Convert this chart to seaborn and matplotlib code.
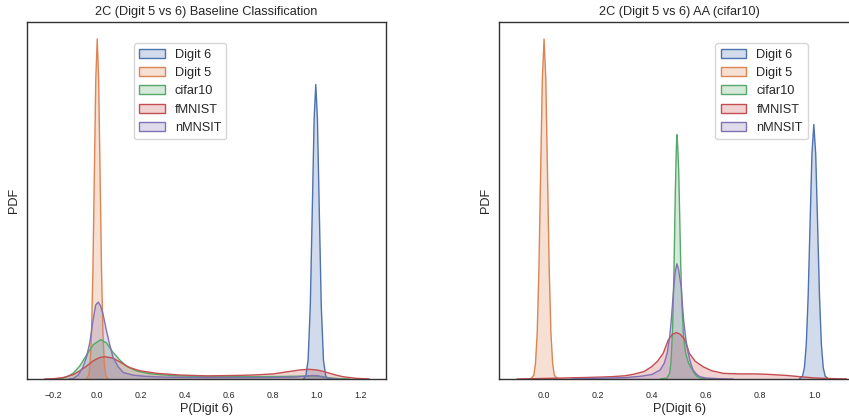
import matplotlib
matplotlib.use("Agg")
import matplotlib.pyplot as plt
from matplotlib.patches import Patch
from matplotlib.colors import to_rgba
import numpy as np
import pandas as pd
import seaborn as sns

# ---- density curves, P(Digit 6) vs PDF ----
series_names = ["Digit 6", "Digit 5", "cifar10", "fMNIST", "nMNSIT"]

# Baseline classification
base_digit6_x = [0.94, 0.951, 0.961, 0.971, 0.981, 0.9885, 0.996, 1.0035, 1.011, 1.021, 1.031, 1.041, 1.052]
base_digit6_y = [0.0, 0.34, 2.0, 7.7, 18.8, 27.4, 31.0, 27.4, 18.8, 7.7, 2.0, 0.34, 0.0]

base_digit5_x = [-0.05, -0.039, -0.0325, -0.026, -0.0195, -0.013, -0.0065, 0.0,
                 0.0065, 0.013, 0.0195, 0.026, 0.0325, 0.039, 0.05]
base_digit5_y = [0.0, 0.4, 1.57, 4.85, 11.6, 21.7, 31.6, 35.8,
                 31.6, 21.7, 11.6, 4.85, 1.57, 0.4, 0.0]

base_cifar_x = [-0.19, -0.16, -0.14, -0.11, -0.08, -0.049, -0.019, 0.016, 0.042, 0.072,
                0.103, 0.133, 0.179, 0.24, 0.345, 0.45, 0.6, 0.75, 0.85, 0.92, 0.97,
                1.01, 1.05, 1.1, 1.15]
base_cifar_y = [0.0, 0.08, 0.2, 0.6, 1.35, 2.5, 3.6, 4.15, 3.8, 2.8,
                2.0, 1.35, 0.85, 0.55, 0.35, 0.28, 0.25, 0.25, 0.27, 0.3, 0.32,
                0.3, 0.15, 0.04, 0.0]

base_fmnist_x = [-0.24, -0.2, -0.156, -0.11, -0.08, -0.049, -0.019, 0.01, 0.034, 0.072,
                 0.103, 0.148, 0.194, 0.27, 0.376, 0.5, 0.65, 0.72, 0.8, 0.878, 0.93,
                 0.965, 1.0, 1.03, 1.06, 1.09, 1.12, 1.18, 1.24]
base_fmnist_y = [0.0, 0.03, 0.15, 0.45, 0.85, 1.35, 1.9, 2.25, 2.35, 2.2,
                 1.8, 1.2, 0.87, 0.6, 0.42, 0.33, 0.38, 0.43, 0.53, 0.8, 0.97,
                 1.02, 0.95, 0.8, 0.6, 0.4, 0.24, 0.07, 0.0]

base_nmnist_x = [-0.13, -0.11, -0.087, -0.065, -0.049, -0.034, -0.019, -0.007, 0.005, 0.015,
                 0.026, 0.042, 0.057, 0.072, 0.095, 0.118, 0.163, 0.22, 0.3, 0.4, 0.5,
                 0.6, 0.7, 0.8, 0.9, 0.95, 0.98, 1.0, 1.03, 1.06, 1.1]
base_nmnist_y = [0.0, 0.05, 0.4, 1.26, 2.3, 3.8, 6.2, 7.8, 8.1, 7.7,
                 6.9, 5.1, 3.6, 2.3, 1.3, 0.7, 0.4, 0.28, 0.2, 0.17, 0.15,
                 0.15, 0.15, 0.16, 0.2, 0.3, 0.36, 0.35, 0.2, 0.05, 0.0]

# AA (cifar10)
aa_digit6_x = [0.945, 0.957, 0.964, 0.971, 0.978, 0.985, 0.992, 0.999, 1.006, 1.013,
               1.02, 1.027, 1.034, 1.041, 1.054]
aa_digit6_y = [0.0, 0.3, 1.2, 3.7, 8.9, 16.6, 24.2, 27.4, 24.2, 16.6,
               8.9, 3.7, 1.2, 0.3, 0.0]

aa_digit5_x = [-0.05, -0.038, -0.032, -0.0254, -0.019, -0.0127, -0.0064, 0.0,
               0.0064, 0.0127, 0.019, 0.0254, 0.032, 0.038, 0.05]
aa_digit5_y = [0.0, 0.41, 1.6, 4.95, 11.9, 22.2, 32.3, 36.6,
               32.3, 22.2, 11.9, 4.95, 1.6, 0.41, 0.0]

aa_cifar_x = [0.43, 0.455, 0.465, 0.47, 0.476, 0.481, 0.486, 0.4895, 0.492, 0.495,
              0.4985, 0.502, 0.506, 0.51, 0.516, 0.524, 0.535, 0.545, 0.555, 0.565,
              0.58, 0.6]
aa_cifar_y = [0.0, 0.1, 0.6, 1.8, 5.5, 11.5, 20.0, 24.5, 26.3, 25.0,
              22.5, 18.0, 12.5, 8.3, 4.8, 2.8, 1.7, 1.2, 0.7, 0.3,
              0.07, 0.0]

aa_fmnist_x = [-0.1, -0.05, 0.0, 0.06, 0.12, 0.18, 0.25, 0.3, 0.33, 0.37,
               0.398, 0.42, 0.441, 0.46, 0.475, 0.49, 0.505, 0.522, 0.538, 0.56,
               0.589, 0.62, 0.663, 0.72, 0.78, 0.83, 0.9, 0.947, 1.0, 1.03,
               1.07, 1.12]
aa_fmnist_y = [0.0, 0.03, 0.06, 0.1, 0.14, 0.18, 0.25, 0.35, 0.5, 0.8,
               1.32, 1.9, 2.76, 4.2, 4.8, 5.0, 4.8, 4.2, 2.76, 1.9,
               1.32, 0.9, 0.61, 0.55, 0.55, 0.5, 0.38, 0.25, 0.12, 0.08,
               0.04, 0.01]

aa_nmnist_x = [0.1, 0.2, 0.3, 0.36, 0.4, 0.43, 0.445, 0.456, 0.465, 0.471,
               0.476, 0.481, 0.486, 0.492, 0.498, 0.503, 0.508, 0.513, 0.517, 0.525,
               0.534, 0.543, 0.552, 0.565, 0.577, 0.6, 0.65, 0.7]
aa_nmnist_y = [0.0, 0.08, 0.15, 0.3, 0.5, 0.97, 1.7, 2.8, 4.5, 6.3,
               8.2, 10.1, 11.6, 12.4, 11.8, 10.8, 9.9, 7.8, 6.3, 4.3,
               2.76, 1.7, 0.97, 0.5, 0.25, 0.1, 0.03, 0.0]

panels = [
    {
        "title": "2C (Digit 5 vs 6) Baseline Classification",
        "curves": [(base_digit6_x, base_digit6_y), (base_digit5_x, base_digit5_y),
                   (base_cifar_x, base_cifar_y), (base_fmnist_x, base_fmnist_y),
                   (base_nmnist_x, base_nmnist_y)],
        "xlim": (-0.32, 1.316),
        "xticks": [-0.2, 0.0, 0.2, 0.4, 0.6, 0.8, 1.0, 1.2],
        "rect": [27 / 849, 38 / 417, 359 / 849, 357 / 417],
        "legend_anchor": (0.298, 0.94),
    },
    {
        "title": "2C (Digit 5 vs 6) AA (cifar10)",
        "curves": [(aa_digit6_x, aa_digit6_y), (aa_digit5_x, aa_digit5_y),
                   (aa_cifar_x, aa_cifar_y), (aa_fmnist_x, aa_fmnist_y),
                   (aa_nmnist_x, aa_nmnist_y)],
        "xlim": (-0.168, 1.17),
        "xticks": [0.0, 0.2, 0.4, 0.6, 0.8, 1.0],
        "rect": [498.7 / 849, 38 / 417, 361.3 / 849, 357 / 417],
        "legend_anchor": (0.6, 0.94),
    },
]

sns.set_theme(style="white")
plt.rcParams["font.family"] = ["Liberation Sans", "DejaVu Sans"]
palette = sns.color_palette("deep", len(series_names))

fig = plt.figure(figsize=(8.49, 4.17), dpi=100)

for panel in panels:
    ax = fig.add_axes(panel["rect"])
    frames = []
    for name, (xs, ys) in zip(series_names, panel["curves"]):
        frames.append(pd.DataFrame({"p": xs, "pdf": ys, "set": name}))
    df = pd.concat(frames, ignore_index=True)

    for name, color in zip(series_names, palette):
        sub = df[df["set"] == name]
        ax.fill_between(sub["p"], 0, sub["pdf"], facecolor=to_rgba(color, 0.25),
                        edgecolor="none", zorder=1)
    sns.lineplot(data=df, x="p", y="pdf", hue="set", hue_order=series_names,
                 palette=palette, estimator=None, sort=False, linewidth=1.0,
                 legend=False, ax=ax, zorder=2)

    ymax = df["pdf"].max()
    ax.set_xlim(*panel["xlim"])
    ax.set_ylim(0, ymax * 1.05)
    ax.set_xticks(panel["xticks"])
    ax.set_yticks([])
    ax.tick_params(axis="x", labelsize=6.4, pad=3)
    ax.set_xlabel("P(Digit 6)", fontsize=9.2, labelpad=2)
    ax.set_ylabel("PDF", fontsize=9.2, labelpad=5)
    ax.set_title(panel["title"], fontsize=9.2, pad=5)
    for spine in ax.spines.values():
        spine.set_color("0.2")
        spine.set_linewidth(1.0)

    handles = [Patch(facecolor=to_rgba(c, 0.25), edgecolor=c, linewidth=1.0, label=n)
               for n, c in zip(series_names, palette)]
    ax.legend(handles=handles, loc="upper left", bbox_to_anchor=panel["legend_anchor"],
              fontsize=9.2, frameon=True, borderaxespad=0.0)

fig.savefig("out.png", dpi=100)
